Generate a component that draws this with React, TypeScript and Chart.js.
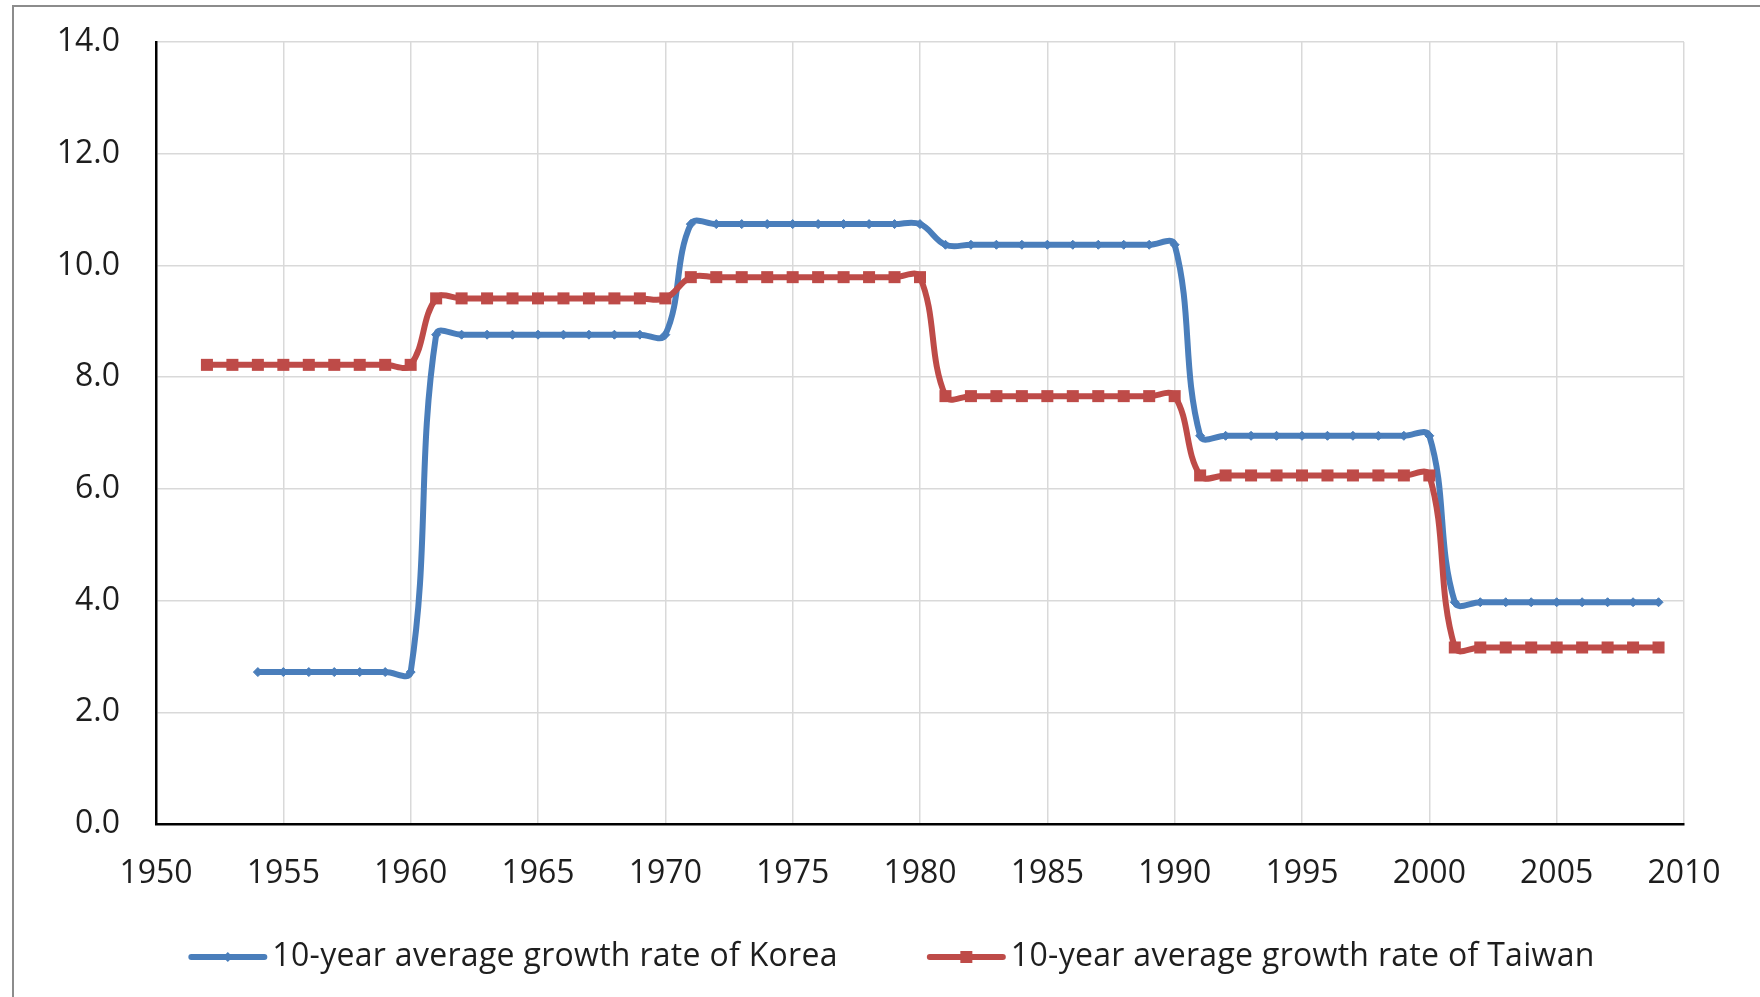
import { useEffect, useRef } from "react";
import { Chart, registerables } from "chart.js";

Chart.register(...registerables);

const YEARS = [
  1952, 1953, 1954, 1955, 1956, 1957, 1958, 1959, 1960,
  1961, 1962, 1963, 1964, 1965, 1966, 1967, 1968, 1969, 1970,
  1971, 1972, 1973, 1974, 1975, 1976, 1977, 1978, 1979, 1980,
  1981, 1982, 1983, 1984, 1985, 1986, 1987, 1988, 1989, 1990,
  1991, 1992, 1993, 1994, 1995, 1996, 1997, 1998, 1999, 2000,
  2001, 2002, 2003, 2004, 2005, 2006, 2007, 2008, 2009,
];

const KOREA: (number | null)[] = [
  null, null, 2.72, 2.72, 2.72, 2.72, 2.72, 2.72, 2.72,
  8.76, 8.76, 8.76, 8.76, 8.76, 8.76, 8.76, 8.76, 8.76, 8.76,
  10.74, 10.74, 10.74, 10.74, 10.74, 10.74, 10.74, 10.74, 10.74, 10.74,
  10.37, 10.37, 10.37, 10.37, 10.37, 10.37, 10.37, 10.37, 10.37, 10.37,
  6.95, 6.95, 6.95, 6.95, 6.95, 6.95, 6.95, 6.95, 6.95, 6.95,
  3.97, 3.97, 3.97, 3.97, 3.97, 3.97, 3.97, 3.97, 3.97,
];

const TAIWAN: (number | null)[] = [
  8.22, 8.22, 8.22, 8.22, 8.22, 8.22, 8.22, 8.22, 8.22,
  9.41, 9.41, 9.41, 9.41, 9.41, 9.41, 9.41, 9.41, 9.41, 9.41,
  9.79, 9.79, 9.79, 9.79, 9.79, 9.79, 9.79, 9.79, 9.79, 9.79,
  7.66, 7.66, 7.66, 7.66, 7.66, 7.66, 7.66, 7.66, 7.66, 7.66,
  6.24, 6.24, 6.24, 6.24, 6.24, 6.24, 6.24, 6.24, 6.24, 6.24,
  3.16, 3.16, 3.16, 3.16, 3.16, 3.16, 3.16, 3.16, 3.16,
];

const SERIES_LABELS = [
  "10-year average growth rate of Korea",
  "10-year average growth rate of Taiwan",
];

const X_TICKS = [1950, 1955, 1960, 1965, 1970, 1975, 1980, 1985, 1990, 1995, 2000, 2005, 2010];
const Y_TICKS = [0, 2, 4, 6, 8, 10, 12, 14];

const BLUE = "#4a7ebb";
const RED = "#be4b48";
const FONT_FAMILY = "'Open Sans', sans-serif";
const TEXT_COLOR = "#1e1e1e";

function toPoints(values: (number | null)[]) {
  const pts: { x: number; y: number }[] = [];
  YEARS.forEach((yr, i) => {
    const v = values[i];
    if (v !== null && v !== undefined) pts.push({ x: yr, y: v });
  });
  return pts;
}

const framePlugin = {
  id: "frame",
  beforeDraw(chart: any) {
    const ctx = chart.ctx;
    ctx.save();
    ctx.fillStyle = "#ffffff";
    ctx.fillRect(0, 0, chart.width, chart.height);
    ctx.strokeStyle = "#8c8c8c";
    ctx.lineWidth = 2;
    ctx.beginPath();
    ctx.moveTo(13, chart.height);
    ctx.lineTo(13, 6);
    ctx.lineTo(chart.width, 6);
    ctx.stroke();
    ctx.restore();
  },
};

const legendPlugin = {
  id: "customLegend",
  afterDraw(chart: any) {
    const ctx = chart.ctx;
    const ds = chart.data.datasets;
    const lineLen = 73;
    const gap = 8;
    const itemGap = 92;
    const yC = 957;
    ctx.save();
    ctx.font = `32px ${FONT_FAMILY}`;
    try {
      (ctx as any).letterSpacing = "0.3px";
    } catch (e) {}
    ctx.textBaseline = "middle";
    ctx.textAlign = "left";
    const widths = ds.map((d: any) => ctx.measureText(d.label).width);
    const total =
      widths.reduce((a: number, w: number) => a + lineLen + gap + w, 0) +
      itemGap * (ds.length - 1);
    let x = 893 - total / 2;
    ds.forEach((d: any, i: number) => {
      ctx.strokeStyle = d.borderColor;
      ctx.lineWidth = 6;
      ctx.lineCap = "round";
      ctx.beginPath();
      ctx.moveTo(x, yC);
      ctx.lineTo(x + lineLen, yC);
      ctx.stroke();
      const cx = x + lineLen / 2;
      ctx.fillStyle = d.borderColor;
      if (d.pointStyle === "rect") {
        ctx.fillRect(cx - 6, yC - 6, 12, 12);
      } else {
        ctx.beginPath();
        ctx.moveTo(cx, yC - 5);
        ctx.lineTo(cx + 5, yC);
        ctx.lineTo(cx, yC + 5);
        ctx.lineTo(cx - 5, yC);
        ctx.closePath();
        ctx.fill();
      }
      ctx.fillStyle = TEXT_COLOR;
      ctx.fillText(d.label, x + lineLen + gap, yC);
      x += lineLen + gap + widths[i] + itemGap;
    });
    ctx.restore();
  },
};

export default function App() {
  const ref = useRef<HTMLCanvasElement>(null);

  useEffect(() => {
    if (!ref.current) return;
    const chart = new Chart(ref.current, {
      type: "line",
      data: {
        datasets: [
          {
            label: SERIES_LABELS[0],
            data: toPoints(KOREA),
            borderColor: BLUE,
            backgroundColor: BLUE,
            borderWidth: 6,
            pointStyle: "rectRot",
            pointRadius: 4.5,
            pointBorderWidth: 1,
            pointBackgroundColor: BLUE,
            pointBorderColor: BLUE,
            tension: 0.4,
            fill: false,
            order: 1,
          },
          {
            label: SERIES_LABELS[1],
            data: toPoints(TAIWAN),
            borderColor: RED,
            backgroundColor: RED,
            borderWidth: 6,
            pointStyle: "rect",
            pointRadius: 8.5,
            pointBorderWidth: 0,
            pointBackgroundColor: RED,
            pointBorderColor: RED,
            tension: 0.4,
            fill: false,
            order: 0,
          },
        ],
      },
      options: {
        responsive: false,
        devicePixelRatio: 1,
        animation: false,
        events: [],
        layout: { padding: { left: 0, top: 42, right: 76, bottom: 0 } },
        plugins: {
          legend: { display: false },
          tooltip: { enabled: false },
          title: { display: false },
        },
        scales: {
          x: {
            type: "linear",
            min: 1950,
            max: 2010,
            afterBuildTicks: (s: any) => {
              s.ticks = X_TICKS.map((v) => ({ value: v }));
            },
            afterFit: (s: any) => {
              s.height = 173;
              s.paddingLeft = 0;
              s.paddingRight = 0;
              s.paddingTop = 0;
              s.paddingBottom = 0;
            },
            grid: { color: "#d9d9d9", lineWidth: 1.5, drawTicks: false },
            border: { color: "#000000", width: 2.5 },
            ticks: {
              autoSkip: false,
              maxRotation: 0,
              padding: 31,
              color: TEXT_COLOR,
              font: { family: FONT_FAMILY, size: 32 },
              callback: (v: any) => String(v),
            },
          },
          y: {
            type: "linear",
            min: 0,
            max: 14,
            afterBuildTicks: (s: any) => {
              s.ticks = Y_TICKS.map((v) => ({ value: v }));
            },
            afterFit: (s: any) => {
              s.width = 156;
              s.paddingLeft = 0;
              s.paddingRight = 0;
              s.paddingTop = 0;
              s.paddingBottom = 0;
            },
            grid: { color: "#d9d9d9", lineWidth: 1.5, drawTicks: false },
            border: { color: "#000000", width: 2.5 },
            ticks: {
              padding: 36,
              color: TEXT_COLOR,
              font: { family: FONT_FAMILY, size: 32 },
              callback: (v: any) => Number(v).toFixed(1),
            },
          },
        },
      },
      plugins: [framePlugin, legendPlugin],
    } as any);
    return () => chart.destroy();
  }, []);

  return (
    <div style={{ position: "absolute", left: 0, top: 0, width: 1760, height: 997, background: "#fff" }}>
      <canvas ref={ref} width={1760} height={997} style={{ display: "block", width: 1760, height: 997 }} />
    </div>
  );
}
